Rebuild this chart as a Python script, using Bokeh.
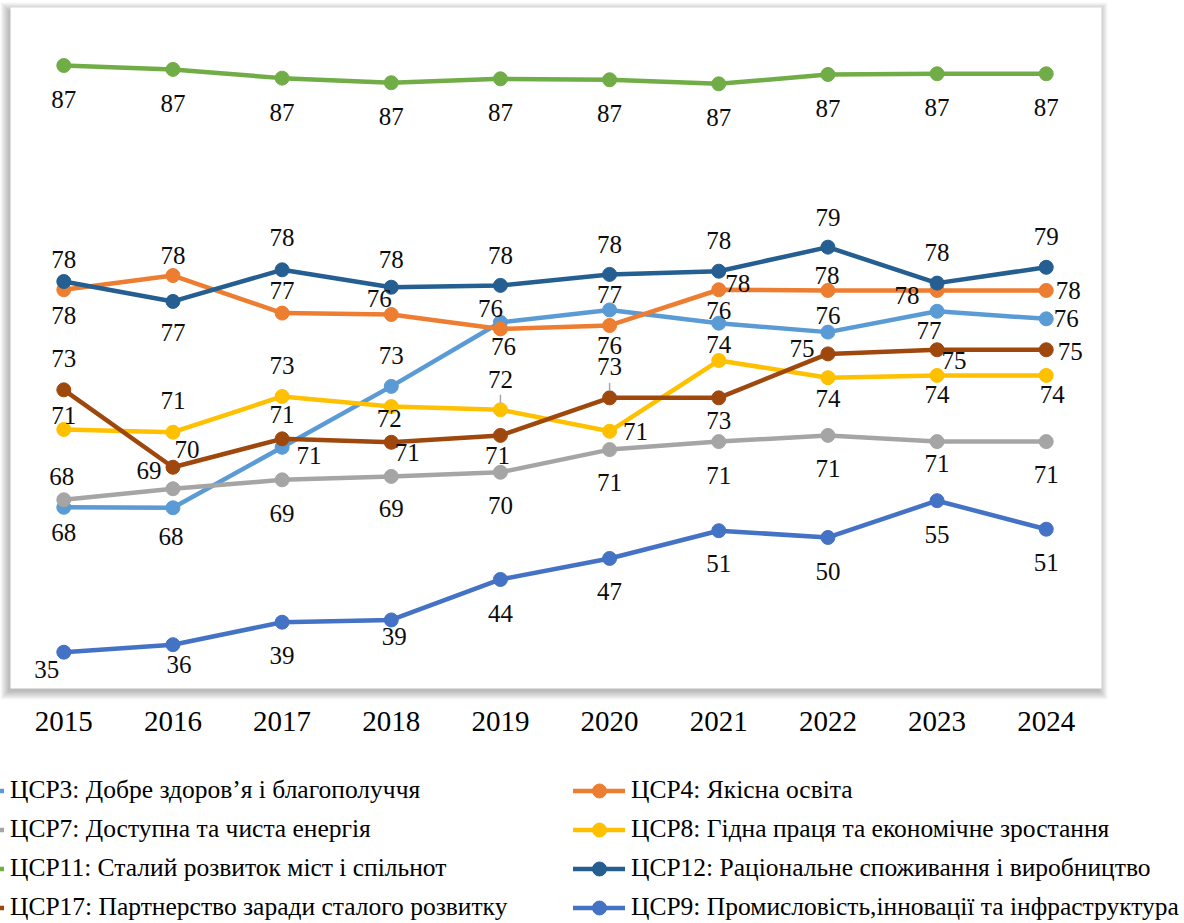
from bokeh.plotting import figure
from bokeh.layouts import column
from bokeh.models import (ColumnDataSource, Range1d, Legend, LegendItem,
                          BoxAnnotation, FixedTicker)
from bokeh.core.properties import value
from bokeh.embed import file_html
from bokeh.resources import INLINE

# ---------------- data ----------------
years = [2015, 2016, 2017, 2018, 2019, 2020, 2021, 2022, 2023, 2024]
year_labels = ["2015", "2016", "2017", "2018", "2019", "2020", "2021", "2022", "2023", "2024"]

sdg3 = [68.05, 68.03, 70.67, 73.33, 76.13, 76.67, 76.09, 75.70, 76.61, 76.28]
sdg4 = [77.55, 78.17, 76.53, 76.47, 75.84, 75.99, 77.55, 77.52, 77.52, 77.52]
sdg7 = [68.38, 68.86, 69.25, 69.40, 69.58, 70.57, 70.92, 71.19, 70.92, 70.92]
sdg8 = [71.45, 71.33, 72.89, 72.45, 72.31, 71.37, 74.46, 73.71, 73.81, 73.81]
sdg11 = [87.34, 87.17, 86.79, 86.59, 86.76, 86.72, 86.54, 86.95, 86.98, 86.98]
sdg12 = [77.91, 77.04, 78.42, 77.66, 77.74, 78.22, 78.36, 79.41, 77.84, 78.53]
sdg17 = [73.18, 69.80, 71.04, 70.89, 71.19, 72.83, 72.83, 74.75, 74.93, 74.93]
sdg9 = [34.7, 35.7, 38.7, 39.0, 44.4, 47.2, 50.9, 50.0, 54.9, 51.1]  # secondary axis

names = {
    "sdg3": "ЦСР3: Добре здоров’я і благополуччя",
    "sdg4": "ЦСР4: Якісна освіта",
    "sdg7": "ЦСР7: Доступна та чиста енергія",
    "sdg8": "ЦСР8: Гідна праця та економічне зростання",
    "sdg11": "ЦСР11: Сталий розвиток міст і спільнот",
    "sdg12": "ЦСР12: Раціональне споживання і виробництво",
    "sdg17": "ЦСР17: Партнерство заради сталого розвитку",
    "sdg9": "ЦСР9: Промисловість,інновації та інфраструктура",
}
series_values = {"sdg3": sdg3, "sdg4": sdg4, "sdg7": sdg7, "sdg8": sdg8,
                 "sdg11": sdg11, "sdg12": sdg12, "sdg17": sdg17, "sdg9": sdg9}
order = ["sdg3", "sdg4", "sdg7", "sdg8", "sdg11", "sdg12", "sdg17", "sdg9"]

# ---------------- styles / layout ----------------
colors = {"sdg3": "#5B9BD5", "sdg4": "#ED7D31", "sdg7": "#A5A5A5", "sdg8": "#FFC000",
          "sdg11": "#70AD47", "sdg12": "#255E91", "sdg17": "#9E480E", "sdg9": "#4472C4"}

# data-label offsets in screen pixels (dx, dy; dy positive = downwards)
label_offsets = {
    "sdg3": [(0, 25), (-2, 29), (27, 8), (0, -31), (-10, -14), (0, -15), (0, -13), (0, -17), (-8, 19), (20, 0)],
    "sdg4": [(0, 26), (0, -20), (0, -23), (-12, -16), (3, 18), (0, 20), (19, -6), (-1, -15), (-30, 5), (22, 0)],
    "sdg7": [(-2, -23), (-24, -18), (0, 34), (0, 32), (0, 33), (0, 33), (0, 34), (0, 33), (0, 22), (0, 33)],
    "sdg8": [(0, -14), (0, -32), (0, -31), (-2, 12), (0, -30), (26, 0), (0, -16), (0, 21), (0, 19), (6, 19)],
    "sdg11": [(0, 34)] * 10,
    "sdg12": [(0, -22), (0, 31), (0, -32), (0, -28), (0, -30), (0, -30), (0, -31), (0, -30), (0, -31), (0, -31)],
    "sdg17": [(0, -31), (14, -18), (0, -24), (16, 10), (-3, 20), (0, -31), (0, 23), (-26, -5), (17, 11), (24, 2)],
    "sdg9": [(-17, 17), (6, 20), (0, 33), (3, 17), (0, 34), (0, 33), (0, 33), (0, 34), (0, 34), (0, 33)],
}
# leader lines (series, point index)
leaders = [("sdg8", 4), ("sdg17", 5)]

FONT = "Liberation Serif"
W, H = 1184, 923
H_MAIN = 755
FRAME_W, FRAME_H = 1184, 700
KX = 109.16          # px per year
KY = 22.903          # px per unit, primary axis
KY2 = 7.5            # px per unit, secondary axis
X0 = 2015 - 63.3 / KX
X1 = X0 + FRAME_W / KX
Y1 = 76.5 + 313.3 / KY
Y0 = Y1 - FRAME_H / KY
Y2_1 = 34.7 + 651.7 / KY2
Y2_0 = Y2_1 - FRAME_H / KY2

p = figure(width=W, height=H_MAIN,
           x_range=Range1d(X0, X1), y_range=Range1d(Y0, Y1),
           output_backend="svg", toolbar_location=None, y_axis_location=None,
           min_border_left=0, min_border_top=0,
           min_border_right=W - FRAME_W, min_border_bottom=H_MAIN - FRAME_H)
p.extra_y_ranges = {"sdg9": Range1d(Y2_0, Y2_1)}
p.xgrid.visible = False
p.ygrid.visible = False
p.outline_line_color = None
p.background_fill_color = "white"
p.border_fill_color = "white"

ax = p.xaxis[0]
ax.ticker = FixedTicker(ticks=years)
ax.major_label_overrides = {y: lab for y, lab in zip(years, year_labels)}
ax.axis_line_color = None
ax.major_tick_line_color = None
ax.minor_tick_line_color = None
ax.major_tick_out = 0
ax.major_tick_in = 0
ax.major_label_standoff = 11
ax.major_label_text_font = FONT
ax.major_label_text_font_size = "29px"
ax.major_label_text_color = "#000000"


# plot-area box with a soft shadow (pixel geometry -> data units)
def px_box(l, r, t, b, **kw):
    return BoxAnnotation(left=X0 + l / KX, right=X0 + r / KX,
                         top=Y1 - t / KY, bottom=Y1 - b / KY,
                         line_color=None, level="underlay", **kw)


BOX_L, BOX_R, BOX_T, BOX_B = 10, 1101, 7, 688
for i in range(1, 10):
    p.add_layout(px_box(BOX_L - i - 1, BOX_R + i - 3, BOX_T - i + 4, BOX_B + i + 2,
                        fill_color="black", fill_alpha=0.03))
p.add_layout(px_box(BOX_L, BOX_R, BOX_T, BOX_B, fill_color="white", fill_alpha=1.0))

for key in order:
    vals = series_values[key]
    src = ColumnDataSource(dict(x=years, y=vals))
    kw = {"y_range_name": "sdg9"} if key == "sdg9" else {}
    p.line("x", "y", source=src, line_color=colors[key], line_width=4.5,
           line_join="round", line_cap="round", **kw)
    p.scatter("x", "y", source=src, marker="circle", size=14,
              fill_color=colors[key], line_color=colors[key], **kw)

# leader lines for two displaced labels
for key, i in leaders:
    k = KY2 if key == "sdg9" else KY
    yv = series_values[key][i]
    kw = {"y_range_name": "sdg9"} if key == "sdg9" else {}
    p.segment(x0=[years[i]], y0=[yv + 7 / k], x1=[years[i]], y1=[yv + 15 / k],
              line_color="#A6A6A6", line_width=1.5, **kw)

for key in order:
    vals = series_values[key]
    offs = label_offsets[key]
    src = ColumnDataSource(dict(
        x=years, y=vals,
        label=[f"{v:.0f}" for v in vals],
        dx=[o[0] for o in offs], dy=[o[1] for o in offs],
    ))
    kw = {"y_range_name": "sdg9"} if key == "sdg9" else {}
    p.text("x", "y", text="label", source=src, x_offset="dx", y_offset="dy",
           text_font=value(FONT), text_font_size="25px", text_color="#0d0d0d",
           text_align="center", text_baseline="middle", **kw)

# ---------------- legend panel ----------------
# the series are drawn again here outside the visible range, only to feed the legend
H_LEG = H - H_MAIN
q = figure(width=W, height=H_LEG, x_range=Range1d(0, 1), y_range=Range1d(0, 1),
           output_backend="svg", toolbar_location=None,
           x_axis_location=None, y_axis_location=None,
           min_border_left=0, min_border_right=0, min_border_top=0, min_border_bottom=0)
q.xgrid.visible = False
q.ygrid.visible = False
q.outline_line_color = None
q.border_fill_color = "white"
q.background_fill_color = "white"

leg_r = {}
for key in order:
    e = ColumnDataSource(dict(x=years, y=series_values[key]))
    l2 = q.line("x", "y", source=e, line_color=colors[key], line_width=4.5, line_cap="round")
    s2 = q.scatter("x", "y", source=e, marker="circle", size=14,
                   fill_color=colors[key], line_color=colors[key])
    leg_r[key] = [l2, s2]

ROW_H, ROW_GAP = 35, 4
FIRST_ROW_Y = 790 - H_MAIN           # centre of the first legend row inside the panel
LEG_H = 4 * ROW_H + 3 * ROW_GAP
LEG_Y = H_LEG - (FIRST_ROW_Y - ROW_H / 2 + LEG_H)


def make_legend(keys, x):
    lg = Legend(items=[LegendItem(label=names[k], renderers=leg_r[k]) for k in keys],
                location=(x, LEG_Y), orientation="vertical",
                glyph_width=52, glyph_height=ROW_H, label_height=ROW_H, label_standoff=6,
                spacing=ROW_GAP, padding=0, margin=0,
                label_text_font=FONT, label_text_font_size="25.5px",
                label_text_color="#000000",
                border_line_color=None, background_fill_alpha=0)
    q.add_layout(lg)
    return lg


make_legend(["sdg3", "sdg7", "sdg11", "sdg17"], -48)
make_legend(["sdg4", "sdg8", "sdg12", "sdg9"], 573)

layout = column(p, q, spacing=0)
open("out.html", "w").write(file_html(layout, INLINE))
